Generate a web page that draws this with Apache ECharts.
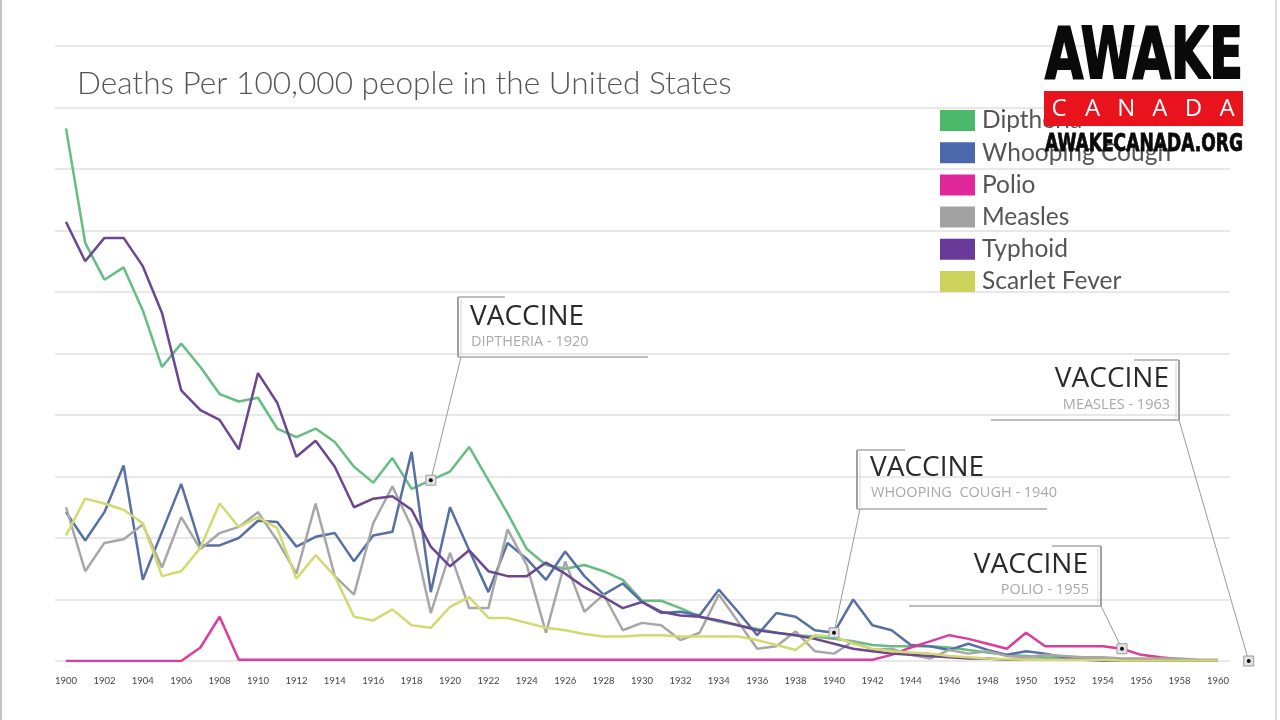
<!DOCTYPE html>
<html><head><meta charset="utf-8">
<script src="https://cdn.jsdelivr.net/npm/echarts@6/dist/echarts.min.js"></script>
<style>html,body{margin:0;padding:0;background:#fff}#c{width:1280px;height:720px}</style>
</head><body><div id="c"></div>
<script>
const years = [1900,1901,1902,1903,1904,1905,1906,1907,1908,1909,1910,1911,1912,1913,1914,1915,1916,1917,1918,1919,1920,1921,1922,1923,1924,1925,1926,1927,1928,1929,1930,1931,1932,1933,1934,1935,1936,1937,1938,1939,1940,1941,1942,1943,1944,1945,1946,1947,1948,1949,1950,1951,1952,1953,1954,1955,1956,1957,1958,1959,1960];
const tickYears = [1900,1902,1904,1906,1908,1910,1912,1914,1916,1918,1920,1922,1924,1926,1928,1930,1932,1934,1936,1938,1940,1942,1944,1946,1948,1950,1952,1954,1956,1958,1960];

const diphtheria = [43.3,34.0,31.0,32.0,28.5,23.9,25.8,23.9,21.7,21.1,21.4,18.9,18.2,18.9,17.8,15.8,14.5,16.5,14.0,14.7,15.4,17.4,14.7,12.0,9.1,7.8,7.5,7.8,7.3,6.6,4.9,4.9,4.3,3.6,3.2,2.9,2.6,2.3,2.1,2.0,1.8,1.6,1.3,1.2,1.2,1.2,1.1,0.9,0.7,0.5,0.4,0.3,0.25,0.2,0.15,0.1,0.1,0.05,0.05,0.05,0.05];
const whoopingCough = [12.1,9.8,12.1,15.9,6.6,10.5,14.4,9.4,9.4,10.0,11.4,11.3,9.3,10.1,10.4,8.1,10.2,10.5,17.0,5.6,12.5,9.0,5.6,9.6,8.3,6.6,8.9,6.9,5.4,6.3,4.8,3.9,4.0,3.7,5.8,4.0,2.1,3.9,3.6,2.5,2.3,5.0,2.9,2.5,1.3,1.2,0.9,1.4,0.9,0.5,0.8,0.6,0.3,0.2,0.15,0.1,0.1,0.1,0.05,0.05,0.05];
const polio = [0,0,0,0,0,0,0,1.1,3.6,0.1,0.1,0.1,0.1,0.1,0.1,0.1,0.1,0.1,0.1,0.1,0.1,0.1,0.1,0.1,0.1,0.1,0.1,0.1,0.1,0.1,0.1,0.1,0.1,0.1,0.1,0.1,0.1,0.1,0.1,0.1,0.1,0.1,0.1,0.5,1.1,1.6,2.1,1.8,1.4,1.0,2.3,1.2,1.2,1.2,1.2,1.0,0.5,0.3,0.15,0.05,0];
const measles = [12.5,7.3,9.6,9.9,11.1,7.6,11.7,9.1,10.4,10.9,12.1,9.8,7.1,12.8,6.9,5.4,11.2,14.2,10.9,3.9,8.8,4.3,4.3,10.7,7.8,2.3,8.1,4.0,5.4,2.5,3.1,2.9,1.7,2.3,5.4,3.2,1.0,1.2,2.4,0.8,0.6,1.6,0.9,1.0,0.5,0.2,0.9,0.6,0.8,0.4,0.3,0.5,0.4,0.3,0.3,0.2,0.2,0.2,0.2,0.1,0.1];
const typhoid = [35.7,32.5,34.4,34.4,32.1,28.3,22.0,20.4,19.6,17.2,23.4,21.0,16.6,17.9,15.8,12.5,13.2,13.4,12.3,9.3,7.7,9.0,7.3,6.9,6.9,8.0,7.1,6.0,5.2,4.3,4.8,4.0,3.7,3.6,3.3,2.9,2.5,2.3,2.1,1.8,1.4,1.0,0.8,0.6,0.5,0.4,0.3,0.2,0.2,0.1,0.1,0.1,0.1,0.1,0.05,0.05,0.05,0.05,0.05,0.05,0.05];
const scarletFever = [10.2,13.2,12.8,12.3,11.2,6.9,7.3,9.2,12.8,10.9,11.7,10.8,6.7,8.6,6.9,3.6,3.3,4.2,2.9,2.7,4.4,5.2,3.5,3.5,3.1,2.7,2.5,2.2,2.0,2.0,2.1,2.1,2.0,2.0,2.0,2.0,1.7,1.3,0.9,2.1,2.0,1.4,1.0,0.8,0.7,0.6,0.4,0.3,0.2,0.15,0.1,0.1,0.1,0.1,0.1,0.05,0.05,0.05,0.05,0.05,0.05];

const seriesNames = ['Diptheria','Whooping Cough','Polio','Measles','Typhoid','Scarlet Fever'];
const seriesData = [diphtheria, whoopingCough, polio, measles, typhoid, scarletFever];
const lineColors = ['#66bd84','#5670a4','#db3d9b','#a7a7a7','#6b4791','#d3d970'];
const swatchColors = ['#4cb86a','#4a68aa','#e0289a','#a2a2a2','#6a3a9a','#cdd35a'];

const titleText = 'Deaths Per 100,000 people in the United States';
// vaccine introduction notes: which series / year the marker sits on
const vaccineNotes = [
  {series: 'Diptheria', year: 1919, label: 'DIPTHERIA - 1920'},
  {series: 'Whooping Cough', year: 1940, label: 'WHOOPING  COUGH - 1940'},
  {series: 'Polio', year: 1955, label: 'POLIO - 1955'},
  {series: null, year: 1961.6, value: 0, label: 'MEASLES - 1963'}
];

const chart = echarts.init(document.getElementById('c'), null, {renderer: 'canvas'});
const PX_PER_YEAR = 19.2;
const option = {
  backgroundColor: '#fff',
  animation: false,
  title: {
    text: titleText, left: 77, top: 68, padding: 0,
    textStyle: {fontFamily: 'Lato', fontWeight: 300, fontSize: 31.6, color: '#555'}
  },
  legend: {
    orient: 'vertical', left: 940, top: 108, padding: 0, itemWidth: 35, itemHeight: 21, itemGap: 7.2,
    icon: 'rect', selectedMode: false,
    textStyle: {fontFamily: 'Lato', fontSize: 24.5, color: '#555', padding: [0,0,0,2]},
    data: seriesNames.map((n, i) => ({name: n, itemStyle: {color: swatchColors[i]}}))
  },
  grid: {left: 55, right: 50, top: 46, bottom: 59, containLabel: false},
  xAxis: {
    type: 'value',
    min: 1900 - 11 / PX_PER_YEAR,
    max: 1960 + 12 / PX_PER_YEAR,
    axisLine: {show: false}, axisTick: {show: false}, splitLine: {show: false},
    axisLabel: {customValues: tickYears, fontSize: 9.5, color: '#444', margin: 15, fontFamily: 'Lato',
      formatter: v => String(Math.round(v))}
  },
  yAxis: {
    type: 'value', min: 0, max: 50, interval: 5,
    axisLine: {show: false}, axisTick: {show: false}, axisLabel: {show: false},
    splitLine: {lineStyle: {color: '#e8e8e8', width: 2}}
  },
  series: seriesNames.map((n, i) => ({
    name: n, type: 'line', showSymbol: false, symbol: 'none',
    lineStyle: {width: 2.5, color: lineColors[i]},
    itemStyle: {color: lineColors[i]},
    data: years.map((y, k) => [y, seriesData[i][k]])
  }))
};
chart.setOption(option);

// ---- annotations (layout boxes), anchored to data points via the chart's scales ----
const boxes = [
  {side: 'left', barX: 458, top: 297, bottom: 357, topEnd: 505, bottomEnd: 648, textX: 470, titleY: 317, subY: 342},
  {side: 'left', barX: 857, top: 450, bottom: 509, topEnd: 905, bottomEnd: 1047, textX: 870, titleY: 468, subY: 493},
  {side: 'right', barX: 1101, top: 546, bottom: 606, topEnd: 1052, bottomEnd: 909, textX: 1088, titleY: 565, subY: 590},
  {side: 'right', barX: 1179, top: 360, bottom: 420, topEnd: 1134, bottomEnd: 991, textX: 1169, titleY: 379, subY: 405}
];
const gfx = [];
const lineStyle = {stroke: '#a8a8a8', lineWidth: 1.5};
vaccineNotes.forEach((note, i) => {
  let v;
  if (note.series) {
    const si = seriesNames.indexOf(note.series);
    v = seriesData[si][years.indexOf(note.year)];
  } else {
    v = note.value;
  }
  const p = chart.convertToPixel({gridIndex: 0}, [note.year, v]);
  const b = boxes[i];
  const align = b.side === 'left' ? 'left' : 'right';
  gfx.push({type: 'line', shape: {x1: b.barX, y1: b.top, x2: b.barX, y2: b.bottom}, style: {stroke: '#a0a0a0', lineWidth: 2}, z: 100});
  gfx.push({type: 'line', shape: {x1: b.barX + (b.side === 'left' ? 3 : -3), y1: b.top + 2, x2: b.barX + (b.side === 'left' ? 3 : -3), y2: b.bottom - 2}, style: {stroke: '#d8d8d8', lineWidth: 1}, z: 100});
  gfx.push({type: 'line', shape: {x1: b.barX, y1: b.top, x2: b.topEnd, y2: b.top}, style: lineStyle, z: 100});
  gfx.push({type: 'line', shape: {x1: b.barX, y1: b.bottom, x2: b.bottomEnd, y2: b.bottom}, style: lineStyle, z: 100});
  gfx.push({type: 'line', shape: {x1: b.barX + (b.side === 'left' ? 3 : 0), y1: b.bottom, x2: p[0], y2: p[1]}, style: {stroke: '#9a9a9a', lineWidth: 1}, z: 100});
  gfx.push({type: 'text', x: b.textX, y: b.titleY, z: 101,
    style: {text: 'VACCINE', fill: '#2a2a2a', font: '500 28px "Open Sans", sans-serif', textAlign: align, align: align, textVerticalAlign: 'middle', verticalAlign: 'middle'}});
  gfx.push({type: 'text', x: b.textX + 1, y: b.subY, z: 101,
    style: {text: note.label, fill: '#a9a9a9', font: '14.5px "Open Sans", sans-serif', textAlign: align, align: align, textVerticalAlign: 'middle', verticalAlign: 'middle'}});
  gfx.push({type: 'rect', x: p[0] - 5, y: p[1] - 5, shape: {x: 0, y: 0, width: 10, height: 10}, style: {fill: '#e2e2e2', stroke: '#9a9a9a', lineWidth: 1}, z: 102});
  gfx.push({type: 'circle', x: p[0], y: p[1], shape: {cx: 0, cy: 0, r: 2}, style: {fill: '#111'}, z: 103});
});

// ---- logo ----
const mctx = document.createElement('canvas').getContext('2d');
function fitScale(text, font, width) { mctx.font = font; return width / mctx.measureText(text).width; }
const logoFont = 'bold 72px "Liberation Sans Narrow", "DejaVu Sans Condensed", "Liberation Sans", sans-serif';
const orgFont = 'bold 24px "Liberation Sans Narrow", "DejaVu Sans Condensed", "Liberation Sans", sans-serif';
gfx.push({type: 'text', x: 1045, y: 59, scaleX: fitScale('AWAKE', logoFont, 198), z: 200,
  style: {text: 'AWAKE', font: logoFont, fill: '#0a0a0a', stroke: '#0a0a0a', lineWidth: 2, textAlign: 'left', align: 'left', textVerticalAlign: 'middle', verticalAlign: 'middle'}});
gfx.push({type: 'rect', shape: {x: 1044, y: 91, width: 199, height: 35}, style: {fill: '#e8131d'}, z: 200});
const canadaLetters = ['C','A','N','A','D','A'];
canadaLetters.forEach((ch, k) => {
  gfx.push({type: 'text', x: 1059 + k * 33.6, y: 109, z: 201,
    style: {text: ch, font: '24px "Open Sans", sans-serif', fill: '#fff', textAlign: 'center', align: 'center', textVerticalAlign: 'middle', verticalAlign: 'middle'}});
});
gfx.push({type: 'text', x: 1045, y: 145, scaleX: fitScale('AWAKECANADA.ORG', orgFont, 198), z: 200,
  style: {text: 'AWAKECANADA.ORG', font: orgFont, fill: '#0a0a0a', stroke: '#0a0a0a', lineWidth: 0.8, textAlign: 'left', align: 'left', textVerticalAlign: 'middle', verticalAlign: 'middle'}});

// frame edges
gfx.push({type: 'line', shape: {x1: 1, y1: 0, x2: 1, y2: 720}, style: {stroke: '#c4c4c4', lineWidth: 2}, z: 300});
gfx.push({type: 'line', shape: {x1: 1276, y1: 0, x2: 1276, y2: 720}, style: {stroke: '#d0d0d0', lineWidth: 1.5}, z: 300});

chart.setOption({graphic: {elements: gfx}});
</script>
</body></html>
